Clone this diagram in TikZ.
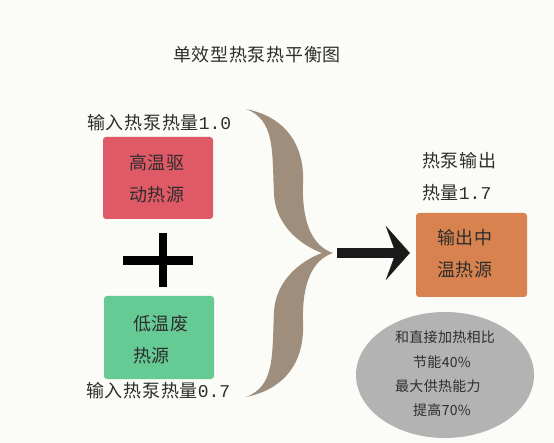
\documentclass[tikz,border=0pt]{standalone}
\usepackage{fontspec}
\setmainfont{Liberation Serif}
\newfontfamily\cjk[LetterSpace=4]{Noto Sans CJK SC}
\newfontfamily\cjks[LetterSpace=2]{Noto Sans CJK SC}
\newfontfamily\mono{Liberation Mono}
\usetikzlibrary{arrows.meta,shapes.geometric}
\definecolor{bg}{HTML}{FBFBF7}
\definecolor{txt}{HTML}{2E2E2E}
\definecolor{hotc}{HTML}{DF5A66}
\definecolor{coldc}{HTML}{66CA95}
\definecolor{outc}{HTML}{D7824F}
\definecolor{ellc}{HTML}{B3B3B3}
\definecolor{bracec}{HTML}{9F8E7B}
\definecolor{arrc}{HTML}{1A1A1A}
\begin{document}
\begin{tikzpicture}[x=1pt,y=-1pt,
  lbl/.style={inner sep=0pt, text=txt, font=\fontsize{18}{32}\selectfont\cjk},
  small/.style={inner sep=0pt, text=txt, font=\fontsize{14}{16}\selectfont\cjks},
  box/.style={rounded corners=3pt, inner sep=0pt},
]
\fill[bg] (0,0) rectangle (554,443);
\useasboundingbox (0,0) rectangle (554,443);
% title
\node[lbl] (title) at (257,55) {单效型热泵热平衡图};
% input labels
\node[lbl, anchor=west] (in1) at (87,123) {输入热泵热量{\mono 1.0}};
\node[lbl, anchor=west] (in2) at (86,391) {输入热泵热量{\mono 0.7}};
% hot box
\node[box, fill=hotc, minimum width=110pt, minimum height=82pt] (hot) at (158,178) {};
\node[lbl, align=center] (hottxt) at (157,179) {高温驱\\动热源};
% plus
\fill[black] (123,256) rectangle (193,265);
\fill[black] (159,233) rectangle (167,287);
% cold box
\node[box, fill=coldc, minimum width=110pt, minimum height=83pt] (cold) at (159,337.5) {};
\node[lbl, align=left, anchor=west] (coldtxt) at (133,339.5) {低温废\\热源};
% brace
\fill[bracec] (246,109) .. controls (290,118) and (305,150) .. (303,185)
  .. controls (302,222) and (312,246) .. (333,253)
  .. controls (312,260) and (302,284) .. (303,321)
  .. controls (305,356) and (290,388) .. (246,397)
  .. controls (275,386) and (272,356) .. (274,311)
  .. controls (276,281) and (300,261) .. (322,253)
  .. controls (300,245) and (276,225) .. (274,195)
  .. controls (272,150) and (275,120) .. (246,109) -- cycle;
\coordinate (btip) at (337,253);
% output box
\node[box, fill=outc, minimum width=111pt, minimum height=84pt] (out) at (471.5,255) {};
\node[lbl, align=center] (outtxt) at (465,254) {输出中\\温热源};
\node[lbl, align=left, anchor=west] (outlbl) at (422,177) {热泵输出\\热量{\mono 1.7}};
% arrow
\draw[arrc, line width=10pt, shorten >=6pt, -{Stealth[length=24pt,width=54pt,inset=10pt,line width=0.01pt]}]
  (btip) -- (btip -| out.west);
% ellipse
\node[ellipse, fill=ellc, minimum width=178pt, minimum height=126pt, inner sep=0pt] (ell) at (445,375) {};
\node[small] (e1) at (445,337) {和直接加热相比};
\node[small] (e2) at (442,362) {节能40\%};
\node[small, anchor=west] (e3) at (395,386) {最大供热能力};
\node[small] (e4) at (442,410) {提高70\%};
\end{tikzpicture}
\end{document}
